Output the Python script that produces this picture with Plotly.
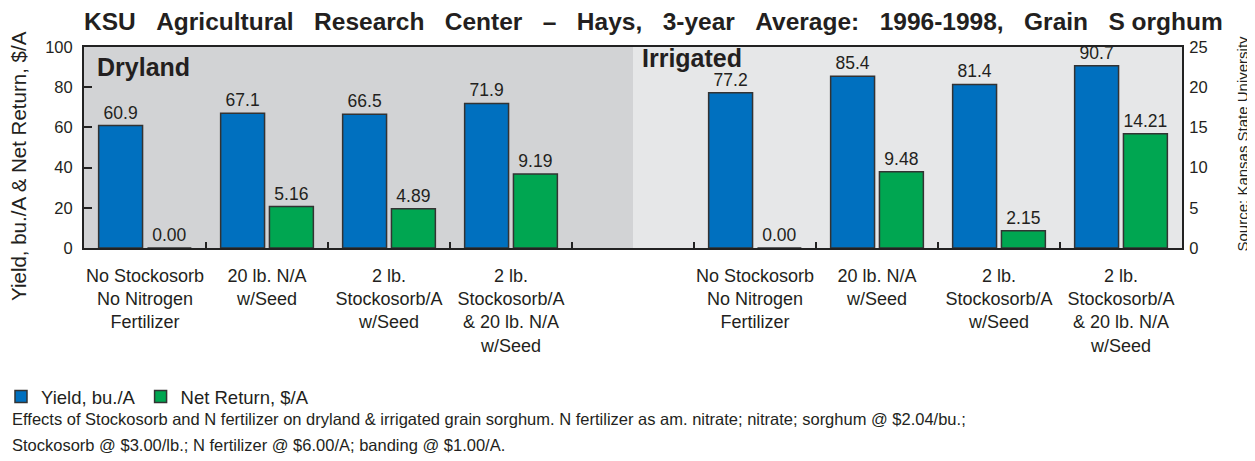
import plotly.graph_objects as go

# ---- data ----
treatments = [
    "No Stockosorb<br>No Nitrogen<br>Fertilizer",
    "20 lb. N/A<br>w/Seed",
    "2 lb.<br>Stockosorb/A<br>w/Seed",
    "2 lb.<br>Stockosorb/A<br>& 20 lb. N/A<br>w/Seed",
]
yield_dry = [60.9, 67.1, 66.5, 71.9]
return_dry = [0.00, 5.16, 4.89, 9.19]
yield_irr = [77.2, 85.4, 81.4, 90.7]
return_irr = [0.00, 9.48, 2.15, 14.21]
group_names = ["Dryland", "Irrigated"]
series_names = ["Yield, bu./A", "Net Return, $/A"]
y_ticks = [0, 20, 40, 60, 80, 100]
y2_ticks = [0, 5, 10, 15, 20, 25]

# category ids: dryland, a blank spacer slot, irrigated
ids_dry = [f"D{i}" for i in range(len(treatments))]
ids_irr = [f"I{i}" for i in range(len(treatments))]
gap_id = "gap"
x_ids = ids_dry + [gap_id] + ids_irr
tick_text = treatments + [""] + treatments
yield_all = yield_dry + [None] + yield_irr
return_all = return_dry + [None] + return_irr

FONT = "Liberation Sans, Arial, Helvetica, sans-serif"
BLUE = "#0070BF"
GREEN = "#00A651"
TXT = "#231f20"

# the page body adds an 8px margin, so the figure is 8px smaller than the window
W, H = 1247, 453

fig = go.Figure()
fig.add_trace(go.Bar(
    x=x_ids, y=yield_all, name=series_names[0], offsetgroup="a",
    marker=dict(color=BLUE, line=dict(color="#333333", width=1.5)),
    text=[None if v is None else f"{v:.1f}" for v in yield_all],
    textposition="outside", cliponaxis=False, constraintext="none",
    textfont=dict(family=FONT, size=17.5, color=TXT),
    yaxis="y",
))
fig.add_trace(go.Bar(
    x=x_ids, y=return_all, name=series_names[1], offsetgroup="b",
    marker=dict(color=GREEN, line=dict(color="#333333", width=1.5)),
    text=[None if v is None else f"{v:.2f}" for v in return_all],
    textposition="outside", cliponaxis=False, constraintext="none",
    textfont=dict(family=FONT, size=17.5, color=TXT),
    yaxis="y2",
))

# dryland shading (left part of the plot area)
fig.add_shape(type="rect", xref="x", yref="paper", x0=-0.5, x1=x_ids.index(gap_id),
              y0=0, y1=1, fillcolor="#d2d3d5", line=dict(width=0), layer="below")

S = "\u00a0\u00a0\u00a0"
title_text = S.join(["KSU", "Agricultural", "Research", "Center", "–", "Hays,", "3-year",
                     "Average:", "1996-1998,", "Grain", "S\u00a0orghum"])

fig.update_layout(
    width=W, height=H,
    margin=dict(l=76, r=73, t=39, b=213, autoexpand=False),
    paper_bgcolor="white", plot_bgcolor="#e6e7e8",
    barmode="group", bargap=0.2, bargroupgap=0.1,
    font=dict(family=FONT, size=17, color=TXT),
    title=dict(
        text=title_text,
        font=dict(family=FONT, size=24.5, color=TXT, weight="bold"),
        x=76 / W, xanchor="left", xref="container",
        y=1 - 13.5 / H, yanchor="middle", yref="container",
    ),
    xaxis=dict(
        type="category", categoryorder="array", categoryarray=x_ids,
        tickmode="array", tickvals=x_ids, ticktext=tick_text, tickangle=0,
        tickson="boundaries", ticks="inside", ticklen=6, tickwidth=2, tickcolor="#222",
        showline=True, linewidth=2, linecolor="#222", mirror=True,
        showgrid=False, tickfont=dict(family=FONT, size=18, color=TXT),
        ticklabelstandoff=10,
        range=[-0.5, len(x_ids) - 0.5], automargin=False,
    ),
    yaxis=dict(
        range=[0, 100], tickvals=y_ticks, ticks="inside", ticklen=8, tickwidth=2,
        tickcolor="#222", showline=True, linewidth=2, linecolor="#222",
        showgrid=False, zeroline=False, tickfont=dict(family=FONT, size=16.5, color=TXT),
        ticklabelstandoff=6, automargin=False,
    ),
    yaxis2=dict(
        range=[0, 25], tickvals=y2_ticks, overlaying="y", side="right",
        showline=True, linewidth=2, linecolor="#222", ticks="",
        showgrid=False, zeroline=False, tickfont=dict(family=FONT, size=16.5, color=TXT),
        ticklabelstandoff=2, automargin=False,
    ),
    legend=dict(
        orientation="h", x=-0.0756, xanchor="left", y=-0.741, yanchor="middle",
        font=dict(family=FONT, size=18.5, color=TXT), bgcolor="rgba(0,0,0,0)",
        traceorder="normal", itemwidth=30,
    ),
    showlegend=True,
)

ann_common = dict(xref="paper", yref="paper", showarrow=False)
fig.add_annotation(text=group_names[0], x=0.01, y=0.9, xanchor="left", yanchor="middle",
                   font=dict(family=FONT, size=25, color=TXT, weight="bold"), **ann_common)
fig.add_annotation(text=group_names[1], x=(640 - 84) / 1098, y=0.945, xanchor="left", yanchor="middle",
                   font=dict(family=FONT, size=25, color=TXT, weight="bold"), **ann_common)
fig.add_annotation(text="Yield, bu./A & Net Return, $/A", textangle=-90,
                   x=(19 - 84) / 1098, y=0.408, xanchor="center", yanchor="middle",
                   font=dict(family=FONT, size=20.5, color=TXT), **ann_common)
fig.add_annotation(text="Source: Kansas State University", textangle=-90,
                   x=(1242 - 84) / 1098, y=0.52, xanchor="center", yanchor="middle",
                   font=dict(family=FONT, size=15, color=TXT), **ann_common)
fig.add_annotation(
    text="Effects of Stockosorb and N fertilizer on dryland & irrigated grain sorghum. N fertilizer as am. nitrate; nitrate; sorghum @ $2.04/bu.;",
    x=(10 - 84) / 1098, y=(248 - 419) / 201, xanchor="left", yanchor="middle",
    font=dict(family=FONT, size=16.5, color=TXT), **ann_common)
fig.add_annotation(
    text="Stockosorb @ $3.00/lb.; N fertilizer @ $6.00/A; banding @ $1.00/A.",
    x=(10 - 84) / 1098, y=(248 - 445) / 201, xanchor="left", yanchor="middle",
    font=dict(family=FONT, size=16.5, color=TXT), **ann_common)

fig.write_html("out.html")
